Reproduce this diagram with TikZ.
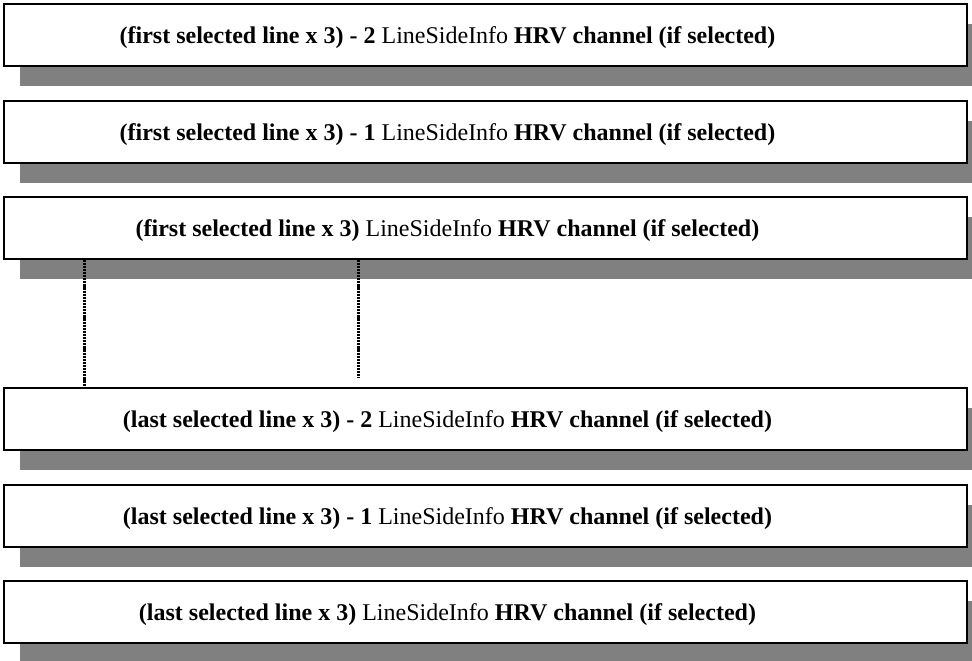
\documentclass[tikz,border=0pt]{standalone}
\usepackage{fontspec}
\setmainfont{Liberation Serif}
\usetikzlibrary{shadows}
\definecolor{shadowgray}{RGB}{128,128,128}
\begin{document}
\begin{tikzpicture}[x=1pt,y=-1pt,
  recbox/.style={draw=black, line width=2pt, fill=white,
    minimum width=963pt, minimum height=62pt, inner sep=0pt,
    drop shadow={shadow xshift=16pt, shadow yshift=-20pt,
      fill=shadowgray, opacity=1}},
  rectext/.style={font=\fontsize{24}{28}\selectfont, inner sep=0pt},
  dotline/.style={line width=3pt, dash pattern=on 2.2pt off 0.9pt}]
\useasboundingbox (0,0) rectangle (972,661);

% record boxes, top to bottom
\node[recbox] (b1) at (485.5,35) {};
\node[recbox] (b2) at (485.5,131.5) {};
\node[recbox] (b3) at (485.5,227.5) {};
\node[recbox] (b4) at (485.5,419) {};
\node[recbox] (b5) at (485.5,515.5) {};
\node[recbox] (b6) at (485.5,611.5) {};

% record labels, set a little left of and below each box centre
\node[rectext] (t1) at ([xshift=-38pt,yshift=-3pt]b1.center) {\textbf{(first selected line x 3) - 2} LineSideInfo \textbf{HRV channel (if selected)}};
\node[rectext] (t2) at ([xshift=-38pt,yshift=-3pt]b2.center) {\textbf{(first selected line x 3) - 1} LineSideInfo \textbf{HRV channel (if selected)}};
\node[rectext] (t3) at ([xshift=-38pt,yshift=-3pt]b3.center) {\textbf{(first selected line x 3)} LineSideInfo \textbf{HRV channel (if selected)}};
\node[rectext] (t4) at ([xshift=-38pt,yshift=-3pt]b4.center) {\textbf{(last selected line x 3) - 2} LineSideInfo \textbf{HRV channel (if selected)}};
\node[rectext] (t5) at ([xshift=-38pt,yshift=-3pt]b5.center) {\textbf{(last selected line x 3) - 1} LineSideInfo \textbf{HRV channel (if selected)}};
\node[rectext] (t6) at ([xshift=-38pt,yshift=-3pt]b6.center) {\textbf{(last selected line x 3)} LineSideInfo \textbf{HRV channel (if selected)}};

% dotted continuation lines between the first and last groups
\coordinate (gapend) at (358,378);
\draw[dotline] (b3.south -| 84,0) -- (b4.north -| 84,0);
\draw[dotline] (b3.south -| gapend) -- (gapend);
\end{tikzpicture}
\end{document}
